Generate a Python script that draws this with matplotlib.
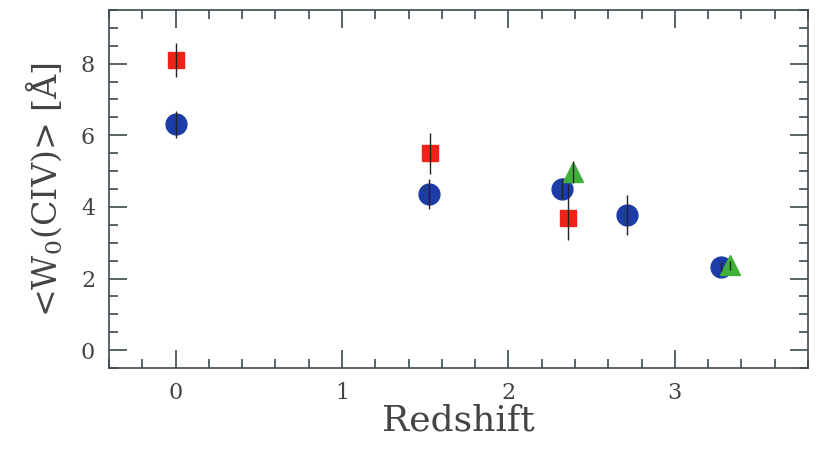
import matplotlib
matplotlib.use('Agg')
import matplotlib.pyplot as plt
from matplotlib.ticker import MultipleLocator

# blue circles
z_circ = [0.0, 1.52, 2.32, 2.71, 3.28]
w_circ = [6.31, 4.37, 4.51, 3.77, 2.33]
e_circ = [0.38, 0.42, 0.30, 0.55, 0.12]

# red squares
z_sq = [0.0, 1.53, 2.36]
w_sq = [8.10, 5.50, 3.68]
e_sq_lo = [0.47, 0.57, 0.60]
e_sq_hi = [0.47, 0.57, 0.95]

# green triangles
z_tri = [2.39, 3.33]
w_tri = [4.97, 2.37]
e_tri = [0.30, 0.12]

plt.rcParams['font.family'] = 'DejaVu Serif'
plt.rcParams['mathtext.fontset'] = 'dejavuserif'

axcol = '#3d4a50'
fig = plt.figure(figsize=(8.17, 4.54), dpi=100)
ax = fig.add_axes([0.1334, 0.1894, 0.8556, 0.7886])

ax.plot(z_circ, w_circ, 'o', color='#1c3ca8', ms=15, mec='#1c3ca8', zorder=3)
ax.plot(z_sq, w_sq, 's', color='#ee2418', ms=12, mec='#ee2418', zorder=3)
ax.plot(z_tri, w_tri, '^', color='#3fb03a', ms=15, mec='#3fb03a', zorder=3)

ax.errorbar(z_circ, w_circ, yerr=e_circ, fmt='none', ecolor='#222222', elinewidth=1, zorder=4)
ax.errorbar(z_sq, w_sq, yerr=[e_sq_lo, e_sq_hi], fmt='none', ecolor='#222222', elinewidth=1, zorder=4)
ax.errorbar(z_tri, w_tri, yerr=e_tri, fmt='none', ecolor='#222222', elinewidth=1, zorder=4)

ax.set_xlim(-0.4, 3.8)
ax.set_ylim(-0.5, 9.5)
ax.xaxis.set_major_locator(MultipleLocator(1))
ax.xaxis.set_minor_locator(MultipleLocator(0.2))
ax.yaxis.set_major_locator(MultipleLocator(2))
ax.yaxis.set_minor_locator(MultipleLocator(0.5))

ax.tick_params(which='both', direction='in', top=True, right=True, color=axcol,
               labelcolor='#444444', labelsize=16, width=1.2)
ax.tick_params(which='major', length=13, pad=10)
ax.tick_params(which='minor', length=6.5)
for s in ax.spines.values():
    s.set_color(axcol)
    s.set_linewidth(1.2)

ax.set_xlabel('Redshift', fontsize=26, color='#444444', labelpad=0)
ax.set_ylabel(r'<W$_0$(CIV)> [Å]', fontsize=24, color='#444444', labelpad=12)

fig.savefig('out.png', dpi=100)
